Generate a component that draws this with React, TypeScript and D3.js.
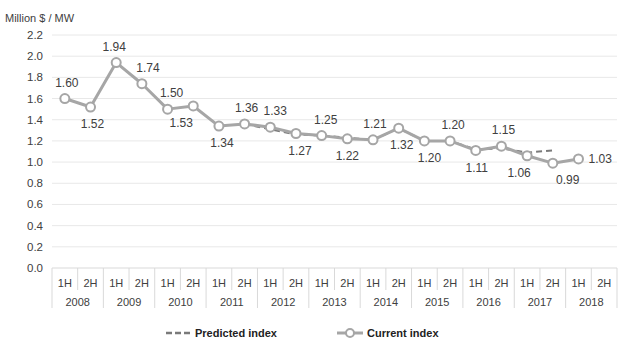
import React from 'react';
import * as d3 from 'd3';

// categories
const years = ['2008', '2009', '2010', '2011', '2012', '2013', '2014', '2015', '2016', '2017', '2018'];
const halves = ['1H', '2H'];
const categories = years.flatMap(y => halves.map(h => `${y} ${h}`));

// Current index, 2008 1H .. 2018 1H
const currentIndex = [1.60, 1.52, 1.94, 1.74, 1.50, 1.53, 1.34, 1.36, 1.33, 1.27, 1.25,
  1.22, 1.21, 1.32, 1.20, 1.20, 1.11, 1.15, 1.06, 0.99, 1.03];

// Predicted index, starting at 2011 2H, mostly hidden under the current line
const predictedStart = 7;
const predictedIndex = [1.36, 1.31, 1.26, 1.25, 1.23, 1.21, 1.32, 1.20, 1.20, 1.12, 1.13, 1.09, 1.11];

const yTicks = [0, 0.2, 0.4, 0.6, 0.8, 1.0, 1.2, 1.4, 1.6, 1.8, 2.0, 2.2];

// where each value label sits: a = above, b = below, r = right
const labelSide = ['a', 'b', 'a', 'a', 'a', 'b', 'b', 'a', 'a', 'b', 'a',
  'b', 'a', 'b', 'b', 'a', 'b', 'a', 'b', 'b', 'r'];
const labelDx = [2, 2, -2, 6, 4, -12, 3, 2, 5, 4, 4, 0, 2, 3, 5, 3, 1, 2, -8, 15, 0];

const W = 623;
const H = 363;
const font = 'Arial, "Liberation Sans", sans-serif';
const textColor = '#404040';

export default function App() {
  const x = d3.scaleBand().domain(categories).range([52, 617]).paddingInner(0).paddingOuter(0);
  const y = d3.scaleLinear().domain([0, 2.2]).range([268, 35]);
  const cx = (i: number) => (x(categories[i]) as number) + x.bandwidth() / 2;

  const line = d3.line<number>().x((d, i) => cx(i)).y(d => y(d));
  const predLine = d3.line<number>().x((d, i) => cx(i + predictedStart)).y(d => y(d));

  const axisTop = y(0);
  const halfBottom = 290;
  const yearBottom = 308;

  return (
    <div style={{ position: 'absolute', left: 0, top: 0 }}>
      <svg width={W} height={H} style={{ display: 'block', background: '#fff' }}>
        <text x={5} y={18} dy="0.35em" fontFamily={font} fontSize={11} fill={textColor}>Million $ / MW</text>

        {/* grid + y labels */}
        {yTicks.map(t => (
          <g key={t}>
            {t > 0 && <line x1={52} x2={617} y1={y(t)} y2={y(t)} stroke="#e8e8e8" strokeWidth={1} />}
            <text x={43} y={y(t)} dy="0.35em" textAnchor="end" fontFamily={font} fontSize={11.5} fill={textColor}>
              {t.toFixed(1)}
            </text>
          </g>
        ))}

        {/* category axis box */}
        <line x1={52} x2={617} y1={axisTop} y2={axisTop} stroke="#d9d9d9" />
        {categories.map((c, i) => {
          const left = x(c) as number;
          const isYearStart = i % 2 === 0;
          return (
            <g key={c}>
              <line x1={left} x2={left} y1={axisTop} y2={isYearStart ? yearBottom : halfBottom} stroke="#d9d9d9" />
              <text x={cx(i)} y={283} dy="0.35em" textAnchor="middle" fontFamily={font} fontSize={11} fill={textColor}>
                {halves[i % 2]}
              </text>
            </g>
          );
        })}
        <line x1={617} x2={617} y1={axisTop} y2={yearBottom} stroke="#d9d9d9" />
        {years.map((yr, j) => (
          <text key={yr} x={(x(categories[j * 2]) as number) + x.bandwidth()} y={302} dy="0.35em"
            textAnchor="middle" fontFamily={font} fontSize={11} fill={textColor}>{yr}</text>
        ))}

        {/* predicted (dashed) under current */}
        <path d={predLine(predictedIndex) || ''} fill="none" stroke="#7a7a7a" strokeWidth={2} strokeDasharray="6,4" />

        {/* current */}
        <path d={line(currentIndex) || ''} fill="none" stroke="#a6a6a6" strokeWidth={3} strokeLinejoin="round" />
        {currentIndex.map((v, i) => (
          <circle key={i} cx={cx(i)} cy={y(v)} r={4.5} fill="#fff" stroke="#a6a6a6" strokeWidth={2} />
        ))}

        {/* value labels */}
        {currentIndex.map((v, i) => {
          const side = labelSide[i];
          const tx = side === 'r' ? cx(i) + 10 : cx(i) + labelDx[i];
          const ty = side === 'a' ? y(v) - 16 : side === 'b' ? y(v) + 17 : y(v);
          return (
            <text key={i} x={tx} y={ty} dy="0.35em" textAnchor={side === 'r' ? 'start' : 'middle'}
              fontFamily={font} fontSize={12} fill={textColor}>{v.toFixed(2)}</text>
          );
        })}

        {/* legend */}
        <line x1={166} x2={192} y1={333} y2={333} stroke="#7a7a7a" strokeWidth={2.5} strokeDasharray="6,3" />
        <text x={195} y={333} dy="0.35em" fontFamily={font} fontWeight="bold" fontSize={11} fill="#222">Predicted index</text>
        <line x1={337} x2={363} y1={333} y2={333} stroke="#a6a6a6" strokeWidth={3} />
        <circle cx={350} cy={333} r={4} fill="#fff" stroke="#a6a6a6" strokeWidth={2} />
        <text x={367} y={333} dy="0.35em" fontFamily={font} fontWeight="bold" fontSize={11} fill="#222">Current index</text>
      </svg>
    </div>
  );
}
